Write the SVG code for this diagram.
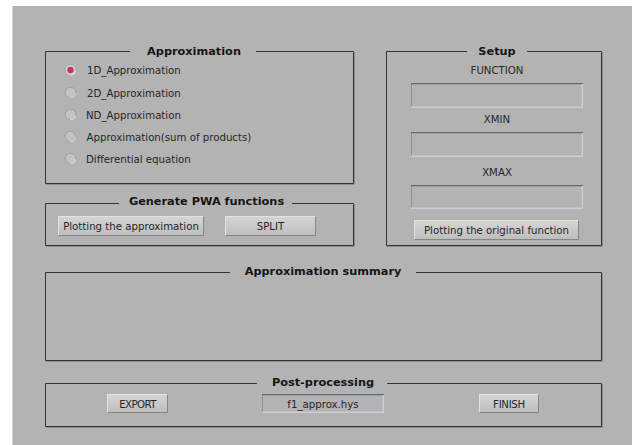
<svg xmlns="http://www.w3.org/2000/svg" width="632" height="445" viewBox="0 0 632 445">
<defs>
<linearGradient id="btn" x1="0" y1="0" x2="0" y2="1">
<stop offset="0" stop-color="#d6d6d6"/>
<stop offset="1" stop-color="#bdbdbd"/>
</linearGradient>
<style>
.frame{fill:none;stroke:#343434;stroke-width:1}
.etch{fill:none;stroke:#8e8e8e;stroke-width:1}
.title{font-family:"DejaVu Sans",sans-serif;font-weight:bold;font-size:11.3px;fill:#151515;text-anchor:middle}
.lbl{font-family:"DejaVu Sans",sans-serif;font-size:10.2px;fill:#262626}
.ctr{text-anchor:middle}
.btnface{fill:url(#btn)}
.btnhi{fill:none;stroke:#e2e2e2;stroke-width:1}
.btnsh{fill:none;stroke:#858585;stroke-width:1}
.fld{fill:#b3b3b3}
.fldtop{stroke:#5f6a76;stroke-width:1.2;fill:none}
.fldleft{stroke:#8a8fa6;stroke-width:1;fill:none}
.fldlow{stroke:#c9cdde;stroke-width:1.5;fill:none}
.radio{fill:#c3c3c3;stroke:#9d9d9d;stroke-width:1}
.radioarc{fill:none;stroke:#dcdcdc;stroke-width:1.2}
</style>
</defs>
<rect x="0" y="0" width="632" height="445" fill="#ffffff"/>
<rect x="12" y="6" width="620" height="439" fill="#b3b3b3"/>
<line x1="12.5" y1="6" x2="12.5" y2="445" stroke="#cfd2dc" stroke-width="1"/>

<g id="approximation">
<path class="etch" d="M354.5 52 V184.5 H46"/>
<path class="frame" d="M130 51.5 H45.5 V183.5 H353.5 V51.5 H256"/>
<text class="title" x="194" y="55">Approximation</text>
<g id="radio1">
<circle cx="70.5" cy="70" r="5.5" fill="#d2d2d2" stroke="#a8a8a8" stroke-width="1"/>
<path class="radioarc" d="M75.6 71 A5.2 5.2 0 0 1 70 75.2"/>
<circle cx="70.5" cy="70" r="3.2" fill="#c7346c"/>
<text class="lbl" x="87" y="74">1D_Approximation</text>
</g>
<g id="radio2">
<circle class="radio" cx="70.5" cy="92.5" r="5.3"/>
<path class="radioarc" d="M75.6 93.5 A5.2 5.2 0 0 1 70 97.7"/>
<text class="lbl" x="87" y="96.5">2D_Approximation</text>
</g>
<g id="radio3">
<circle class="radio" cx="70.5" cy="114.5" r="5.3"/>
<path class="radioarc" d="M75.6 115.5 A5.2 5.2 0 0 1 70 119.7"/>
<text class="lbl" x="86" y="118.5">ND_Approximation</text>
</g>
<g id="radio4">
<circle class="radio" cx="70.5" cy="136.5" r="5.3"/>
<path class="radioarc" d="M75.6 137.5 A5.2 5.2 0 0 1 70 141.7"/>
<text class="lbl" x="86.5" y="140.5">Approximation(sum of products)</text>
</g>
<g id="radio5">
<circle class="radio" cx="70.5" cy="158.5" r="5.3"/>
<path class="radioarc" d="M75.6 159.5 A5.2 5.2 0 0 1 70 163.7"/>
<text class="lbl" x="86" y="162.5">Differential equation</text>
</g>
</g>

<g id="setup">
<path class="etch" d="M602.5 52 V246.5 H387"/>
<path class="frame" d="M467 51.5 H386.5 V245.5 H601.5 V51.5 H527"/>
<text class="title" x="497" y="55">Setup</text>
<text class="lbl ctr" x="497" y="74">FUNCTION</text>
<g id="field-function">
<rect class="fld" x="411" y="83" width="172" height="25"/>
<path class="fldleft" d="M411.5 108 V83.5"/>
<path class="fldtop" d="M411 83.6 H583"/>
<path class="fldlow" d="M411 107.3 H583 M582.3 84 V108"/>
</g>
<text class="lbl ctr" x="497" y="123">XMIN</text>
<g id="field-xmin">
<rect class="fld" x="411" y="132" width="172" height="25"/>
<path class="fldleft" d="M411.5 157 V132.5"/>
<path class="fldtop" d="M411 132.6 H583"/>
<path class="fldlow" d="M411 156.3 H583 M582.3 133 V157"/>
</g>
<text class="lbl ctr" x="497" y="176">XMAX</text>
<g id="field-xmax">
<rect class="fld" x="411" y="185" width="172" height="24"/>
<path class="fldleft" d="M411.5 209 V185.5"/>
<path class="fldtop" d="M411 185.6 H583"/>
<path class="fldlow" d="M411 208.3 H583 M582.3 186 V209"/>
</g>
<g id="btn-original">
<rect class="btnface" x="414" y="220" width="165" height="20"/>
<path class="btnhi" d="M414.5 239.5 V220.5 H578.5"/>
<path class="btnsh" d="M414.5 239.5 H578.5 V220.5"/>
<text class="lbl ctr" x="496.5" y="234">Plotting the original function</text>
</g>
</g>

<g id="generate-pwa">
<path class="etch" d="M354.5 204 V246.5 H46"/>
<path class="frame" d="M119 203.5 H45.5 V245.5 H353.5 V203.5 H292"/>
<text class="title" x="206.5" y="205">Generate PWA functions</text>
<g id="btn-plot-approx">
<rect class="btnface" x="58" y="216" width="146" height="20"/>
<path class="btnhi" d="M58.5 235.5 V216.5 H203.5"/>
<path class="btnsh" d="M58.5 235.5 H203.5 V216.5"/>
<text class="lbl ctr" x="131" y="230">Plotting the approximation</text>
</g>
<g id="btn-split">
<rect class="btnface" x="225" y="216" width="91" height="20"/>
<path class="btnhi" d="M225.5 235.5 V216.5 H315.5"/>
<path class="btnsh" d="M225.5 235.5 H315.5 V216.5"/>
<text class="lbl ctr" x="270.5" y="230">SPLIT</text>
</g>
</g>

<g id="summary">
<path class="etch" d="M602.5 273 V361.5 H46"/>
<path class="frame" d="M230 272.5 H45.5 V360.5 H601.5 V272.5 H416"/>
<text class="title" x="323" y="275">Approximation summary</text>
</g>

<g id="post-processing">
<path class="etch" d="M602.5 384 V427.5 H46"/>
<path class="frame" d="M257 383.5 H45.5 V426.5 H601.5 V383.5 H387"/>
<text class="title" x="323" y="386">Post-processing</text>
<g id="btn-export">
<rect class="btnface" x="107" y="394" width="61" height="19"/>
<path class="btnhi" d="M107.5 412.5 V394.5 H167.5"/>
<path class="btnsh" d="M107.5 412.5 H167.5 V394.5"/>
<text class="lbl ctr" x="137.5" y="407.5" letter-spacing="-0.6">EXPORT</text>
</g>
<g id="field-file">
<rect class="fld" x="262" y="394" width="122" height="19"/>
<path class="fldleft" d="M262.5 413 V394.5"/>
<path class="fldtop" d="M262 394.6 H384"/>
<path class="fldlow" d="M262 412.3 H384 M383.3 395 V413"/>
<text class="lbl ctr" x="323" y="407.5">f1_approx.hys</text>
</g>
<g id="btn-finish">
<rect class="btnface" x="479" y="394" width="60" height="19"/>
<path class="btnhi" d="M479.5 412.5 V394.5 H538.5"/>
<path class="btnsh" d="M479.5 412.5 H538.5 V394.5"/>
<text class="lbl ctr" x="509" y="407.5" letter-spacing="-0.3">FINISH</text>
</g>
</g>

<g id="connectors"></g>
</svg>
